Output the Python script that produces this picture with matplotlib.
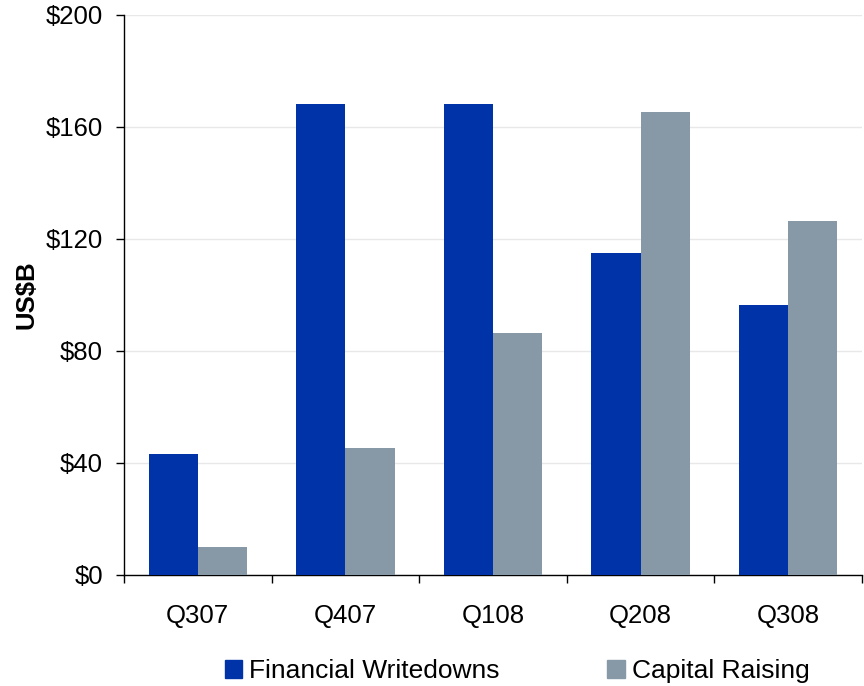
import matplotlib
matplotlib.use("Agg")
import matplotlib.pyplot as plt
import numpy as np
from matplotlib.ticker import FixedLocator, FuncFormatter
from matplotlib.patches import Patch

quarters = ["Q307", "Q407", "Q108", "Q208", "Q308"]
writedowns = [43.2, 168.2, 168.2, 115.0, 96.4]
capital_raising = [10.0, 45.4, 86.4, 165.4, 126.4]

plt.rcParams['font.family'] = ['Liberation Sans', 'DejaVu Sans']

fig = plt.figure(figsize=(8.64, 6.86), dpi=100)
ax = fig.add_axes([124/864, 1-575/686, (862-124)/864, (575-15)/686])

x = np.arange(len(quarters))
w = 1/3
blue = "#0033A8"
grey = "#8799A6"
ax.bar(x - w/2, writedowns, width=w, color=blue, zorder=3)
ax.bar(x + w/2, capital_raising, width=w, color=grey, zorder=3)

ax.set_xlim(-0.5, len(quarters) - 0.5)
ax.set_ylim(0, 200)
ax.set_yticks(np.arange(0, 201, 40))
ax.yaxis.set_major_formatter(FuncFormatter(lambda v, p: f"${int(v)}"))
ax.grid(axis='y', color="#E8E8E8", linewidth=1, zorder=0)

ax.set_xticks(x)
ax.set_xticklabels(quarters)
ax.xaxis.set_minor_locator(FixedLocator(np.arange(-0.5, len(quarters), 1.0)))
ax.tick_params(axis='x', which='major', length=0, pad=21, labelsize=18.5)
ax.tick_params(axis='x', which='minor', length=6, width=1, direction='out')
ax.tick_params(axis='y', length=6, width=1, direction='out', labelsize=18.5, pad=9)

for s in ['top', 'right']:
    ax.spines[s].set_visible(False)
for s in ['left', 'bottom']:
    ax.spines[s].set_color('black')
    ax.spines[s].set_linewidth(1)

ax.set_ylabel("US$B", fontsize=18.5, fontweight='bold', labelpad=5)

handles = [Patch(color=blue, label="Financial Writedowns"),
           Patch(color=grey, label="Capital Raising")]
fig.legend(handles=handles, loc='center', bbox_to_anchor=(517/864, 1-671/686),
           ncol=2, frameon=False, fontsize=19, handlelength=0.65, handleheight=0.65,
           handletextpad=0.27, columnspacing=4.1, borderpad=0, borderaxespad=0)

fig.savefig("out.png", dpi=100)
